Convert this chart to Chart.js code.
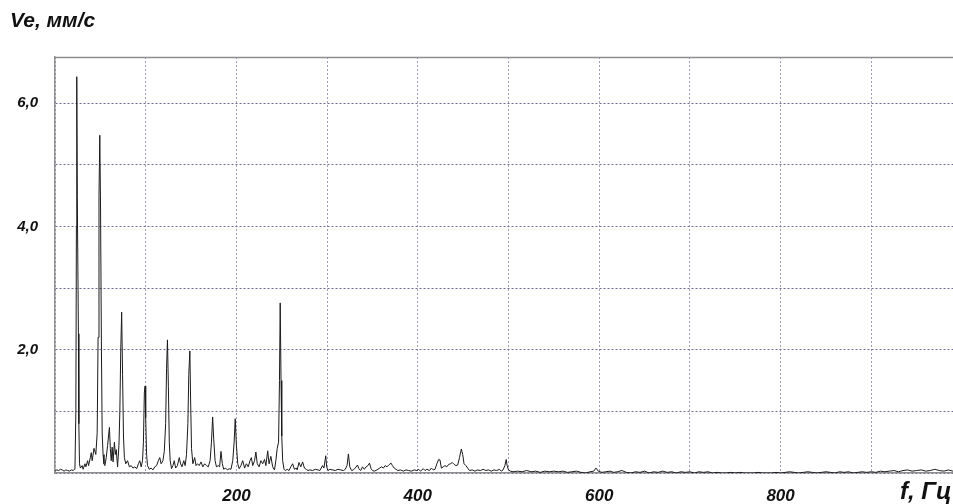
<!DOCTYPE html>
<html>
<head>
<meta charset="utf-8">
<script src="https://cdn.jsdelivr.net/npm/chart.js@4/dist/chart.umd.min.js"></script>
<style>
  html, body { margin: 0; padding: 0; background: #fff; overflow: hidden; width: 953px; height: 504px; }
  #wrap { position: absolute; left: 0; top: 0; width: 970px; height: 504px; }
  .lbl { position: absolute; font-family: "Liberation Sans", Arial, sans-serif; font-weight: bold; font-style: italic; color: #111; white-space: nowrap; }
</style>
</head>
<body>
<div id="wrap"><canvas id="c" width="970" height="504"></canvas></div>
<div class="lbl" style="left:10px; top:8px; font-size:21px;">Ve, мм/с</div>
<div class="lbl" style="left:900px; top:477px; font-size:24px;">f, Гц</div>
<script>
// Frequency (Hz) and vibration velocity (mm/s)
const freqs = [
  0,2,4,6,8,10,12,14,16,18,20,21.5,22,23,23.6,24,24.6,25.8,26.3,27,
  28,30,31,33,34,36,37,39,40,41,43,45,46.5,47.5,48.5,49.4,50.2,51.2,52,53,54,
  55,56.5,58,60,61,62,63,64,65.5,66.5,67.5,69,70.5,71.5,72.5,73.5,74.5,75.5,76.5,78,
  80,82,84,86,88,90,92,93.5,95,96.5,97.5,98.5,99.3,100,101,102,104,106,108,
  110,112,114,115.5,117,119,120.5,122,123,124,125,126,127,128.5,130,131.5,133,135,
  137,138.5,140,142,143.5,145,146.5,147.5,148.7,149.5,150.5,152,154,155.5,157,159,
  161,163,165,167,169,171,172.5,173.8,175,176.5,178,180,181.5,183,184.5,186,188,
  190,192,194,196,197.5,198.7,200,201.5,203,205,207,209,211,213,215,216.5,218,
  220,221.5,223,225,227,229,231,232.5,234.5,236,238,240,242,243.5,245,246.5,247.5,
  248.3,249.2,250,251,252.5,254,256,258,260,262,264,266,267,269,271,273,275,277,
  279,281,284,287,290,292,295,296.5,298.5,299.5,301,303,306,309,312,315,318,320,
  322,323.5,325,327,329,331,333.5,335,337,339,341,343,345,346.7,348.5,350,352,355,
  358,360,362,364,366,368,370.5,372,374,376,378,381,384,387,390,393,396,399,401,
  403,406,408,410,413,415,417,419,421,423,424.5,426,428,430,432,434,436,438,440,
  442,444,446,448,449.5,451,453,455,457,460,463,466,469,472,475,478,481,484,487,
  490,492,494,496,497.5,498.5,500,502,505,510,515,520,525,530,535,540,545,550,555,
  560,565,570,575,580,585,590,594,596.5,599,603,607,612,616,620,625,630,635,640,
  645,650,655,660,665,670,675,680,685,690,695,700,705,710,715,720,725,730,735,740,
  745,750,755,760,770,775,780,790,795,800,805,810,815,820,825,830,835,840,845,850,
  855,860,865,870,875,880,885,890,895,900,905,910,915,920,925,930,935,940,945,950,
  955,960,965,970,975,980,985,990,995,1000
];
const amps = [
  0.03,0.05,0.04,0.06,0.05,0.03,0.05,0.04,0.03,0.05,0.04,0.06,0.08,1.0,4.0,6.43,4.5,2.26,0.8,0.15,
  0.08,0.12,0.06,0.15,0.1,0.2,0.12,0.25,0.33,0.2,0.4,0.3,0.65,2.2,4.5,5.48,4.3,2.0,0.65,0.3,0.15,
  0.12,0.25,0.45,0.74,0.4,0.2,0.42,0.18,0.5,0.3,0.38,0.1,0.45,1.0,2.0,2.61,1.6,0.6,0.25,0.15,
  0.2,0.1,0.12,0.08,0.1,0.07,0.15,0.2,0.1,0.2,0.5,1.3,1.41,0.9,0.3,0.12,0.06,0.08,0.05,
  0.1,0.12,0.2,0.25,0.15,0.2,0.35,0.8,1.7,2.16,1.4,0.5,0.2,0.07,0.12,0.2,0.08,0.12,
  0.25,0.15,0.1,0.2,0.12,0.3,0.8,1.6,1.98,1.2,0.4,0.15,0.25,0.12,0.15,0.12,
  0.18,0.1,0.15,0.12,0.1,0.2,0.5,0.91,0.55,0.2,0.1,0.12,0.1,0.35,0.15,0.06,0.08,
  0.05,0.07,0.06,0.2,0.5,0.88,0.45,0.15,0.07,0.12,0.2,0.08,0.15,0.1,0.2,0.25,0.12,
  0.2,0.34,0.15,0.1,0.2,0.15,0.22,0.12,0.36,0.15,0.27,0.1,0.05,0.2,0.4,0.5,1.5,
  2.76,1.5,0.6,0.2,0.06,0.04,0.06,0.04,0.1,0.15,0.06,0.08,0.05,0.17,0.1,0.18,0.08,0.06,
  0.04,0.05,0.04,0.06,0.05,0.04,0.12,0.08,0.28,0.1,0.04,0.06,0.05,0.04,0.06,0.05,0.04,0.06,
  0.12,0.31,0.1,0.04,0.05,0.08,0.13,0.07,0.04,0.1,0.06,0.1,0.12,0.16,0.07,0.04,0.03,0.05,
  0.08,0.1,0.08,0.12,0.1,0.13,0.16,0.12,0.08,0.06,0.04,0.05,0.03,0.05,0.04,0.03,0.05,0.04,0.06,
  0.03,0.07,0.04,0.06,0.04,0.08,0.05,0.06,0.15,0.22,0.21,0.08,0.1,0.12,0.1,0.14,0.15,0.17,0.14,
  0.12,0.13,0.25,0.39,0.3,0.15,0.12,0.08,0.04,0.05,0.03,0.05,0.04,0.06,0.04,0.05,0.03,0.05,0.04,
  0.06,0.03,0.05,0.12,0.22,0.12,0.05,0.03,0.02,0.03,0.02,0.04,0.02,0.03,0.01,0.03,0.02,0.03,0.02,
  0.03,0.01,0.02,0.03,0.01,0.0,0.02,0.03,0.08,0.03,0.01,0.02,0.03,0.01,0.02,0.04,0.01,0.0,0.02,
  0.01,0.03,0.0,0.02,0.01,0.03,0.01,0.02,0.0,0.02,0.01,0.02,0.0,0.02,0.01,0.02,0.0,0.01,0.0,0.0,
  0.01,0.0,0.01,0.0,0.0,0.01,0.0,0.0,0.01,0.0,0.01,0.02,0.01,0.0,0.01,0.02,0.01,0.0,0.01,0.02,
  0.01,0.0,0.02,0.01,0.02,0.0,0.01,0.02,0.01,0.02,0.01,0.03,0.02,0.03,0.04,0.02,0.04,0.05,0.03,0.04,
  0.05,0.03,0.04,0.06,0.04,0.03,0.05,0.03,0.04,0.03
];
const yLabelValues = [2, 4, 6];
const xLabelValues = [200, 400, 600, 800];

const points = freqs.map((f, i) => ({ x: f, y: amps[i] }));

const frameBorder = {
  id: 'frameBorder',
  afterDraw(chart) {
    const a = chart.chartArea, ctx = chart.ctx;
    ctx.save();
    ctx.strokeStyle = '#8f8f8f';
    ctx.lineWidth = 1.5;
    ctx.beginPath();
    ctx.moveTo(a.left, a.top + 0.5);
    ctx.lineTo(a.right, a.top + 0.5);
    ctx.stroke();
    ctx.restore();
  }
};

const fontFamily = '"Liberation Sans", Arial, sans-serif';

new Chart(document.getElementById('c'), {
  type: 'line',
  data: {
    datasets: [{
      data: points,
      borderColor: '#1a1a1a',
      borderWidth: 1,
      pointRadius: 0,
      tension: 0,
      fill: false
    }]
  },
  options: {
    responsive: false,
    animation: false,
    devicePixelRatio: 1,
    layout: { padding: { left: 0, top: 57, right: 8, bottom: 0 } },
    plugins: { legend: { display: false }, tooltip: { enabled: false } },
    scales: {
      x: {
        type: 'linear',
        min: 0, max: 1000,
        afterFit(s) { s.height = 31; s.paddingRight = 0; s.paddingLeft = 0; },
        grid: { color: '#9d9db4', lineWidth: 1, drawTicks: false },
        border: { color: '#8f8f8f', width: 1.5, dash: [2, 2] },
        ticks: {
          stepSize: 100, autoSkip: false, maxRotation: 0, padding: 13,
          color: '#111', font: { family: fontFamily, size: 17, weight: 'bold', style: 'italic' },
          callback: (v) => xLabelValues.includes(v) ? String(v) : ''
        }
      },
      y: {
        type: 'linear',
        min: 0, max: 6.75,
        afterFit(s) { s.width = 55; s.paddingTop = 0; s.paddingBottom = 0; },
        grid: { color: '#6c6c90', lineWidth: 1, drawTicks: false },
        border: { color: '#8f8f8f', width: 1.5, dash: [2, 2] },
        ticks: {
          stepSize: 1, autoSkip: false, padding: 17,
          color: '#111', font: { family: fontFamily, size: 15, weight: 'bold', style: 'italic' },
          callback: (v) => yLabelValues.includes(v) ? v.toFixed(1).replace('.', ',') : ''
        }
      }
    }
  },
  plugins: [frameBorder]
});
</script>
</body>
</html>
